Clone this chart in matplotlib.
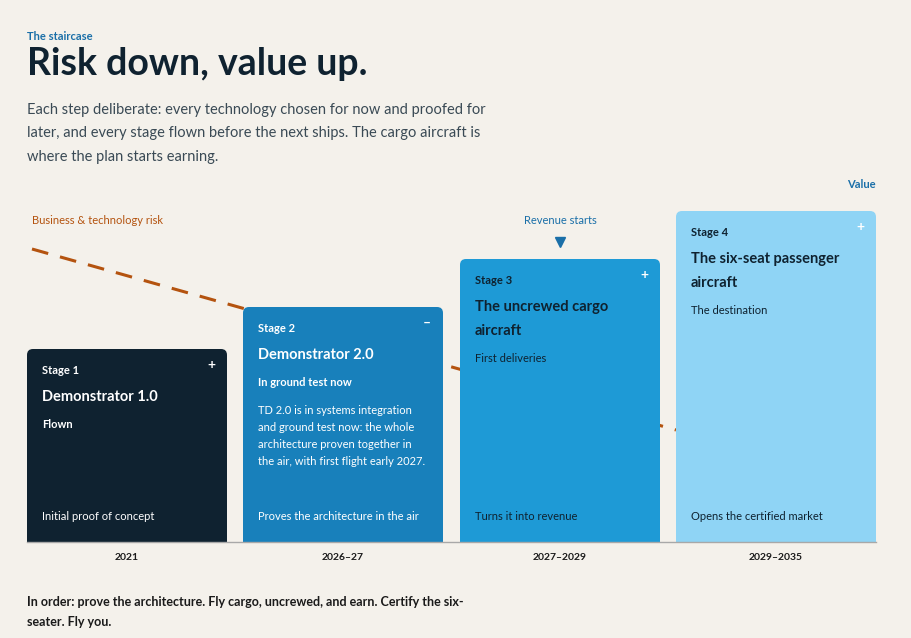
import matplotlib.pyplot as plt
from matplotlib.patches import FancyBboxPatch, Rectangle

plt.rcParams['font.family'] = ['Lato', 'DejaVu Sans']

# data
stages = ['Stage 1', 'Stage 2', 'Stage 3', 'Stage 4']
names = ['Demonstrator 1.0', 'Demonstrator 2.0', 'The uncrewed cargo\naircraft',
         'The six-seat passenger\naircraft']
status = ['Flown', 'In ground test now', 'First deliveries', 'The destination']
roles = ['Initial proof of concept', 'Proves the architecture in the air',
         'Turns it into revenue', 'Opens the certified market']
years = ['2021', '2026\u201327', '2027\u20132029', '2029\u20132035']
heights = [193, 235, 283, 331]  # relative value, px scale
icons = ['+', '\u2013', '+', '+']
colors = ['#0f2230', '#1880bb', '#1e9ad6', '#8fd4f5']
textcol = ['white', 'white', '#0f2230', '#0f2230']
risk_x = [32, 676]
risk_y = [249, 430]

BG = '#f4f1eb'
fig = plt.figure(figsize=(9.11, 6.38), dpi=100, facecolor=BG)
ax = fig.add_axes([0, 0, 1, 1])
ax.set_xlim(0, 911)
ax.set_ylim(638, 0)
ax.axis('off')

base = 542
x0s = [27, 243, 460, 676]
w = 200

ax.plot(risk_x, risk_y, color='#b4530f', lw=2.2, ls=(0, (5.5, 4)), zorder=1)

for i in range(4):
    x = x0s[i]
    top = base - heights[i]
    ax.add_patch(FancyBboxPatch((x, top), w, heights[i], boxstyle='round,pad=0,rounding_size=6',
                                fc=colors[i], ec='none', zorder=2))
    ax.add_patch(Rectangle((x, base - 20), w, 20, fc=colors[i], ec='none', zorder=2))
    tc = textcol[i]
    ax.text(x + 15, top + 21, stages[i], color=tc, fontsize=8, fontweight='bold', va='center')
    ax.text(x + w - 16, top + 16, icons[i], color='white', fontsize=10, fontweight='bold',
            ha='center', va='center')
    nlines = names[i].count('\n') + 1
    ax.text(x + 15, top + 48, names[i].split('\n')[0], color=tc, fontsize=10.5,
            fontweight='bold', va='center')
    if nlines > 1:
        ax.text(x + 15, top + 72, names[i].split('\n')[1], color=tc, fontsize=10.5,
                fontweight='bold', va='center')
    sy = top + 51 + 24 * nlines
    ax.text(x + 15, sy, status[i], color=tc, fontsize=8, fontweight='bold' if i < 2 else 'normal',
            va='center')
    ax.text(x + 15, 517, roles[i], color=tc, fontsize=8, va='center')
    ax.text(x + w / 2, 558, years[i], color='#1a1a1a', fontsize=7.5, fontweight='bold',
            ha='center', va='center')

ax.text(258, 405, 'TD 2.0 is in systems integration\nand ground test now: the whole\n'
        'architecture proven together in\nthe air, with first flight early 2027.',
        color='white', fontsize=8, va='top', linespacing=1.65, zorder=3)
for t in ax.texts:
    t.set_zorder(3)

ax.plot([27, 876], [base, base], color='#a8a8a8', lw=1, zorder=3)

ax.plot(560, 242, marker='v', color='#1a6fa8', ms=7, zorder=3)
ax.text(560, 221, 'Revenue starts', color='#1a6fa8', fontsize=8, ha='center', va='center')
ax.text(876, 184, 'Value', color='#1a6fa8', fontsize=8, ha='right', va='center', fontweight='bold')
ax.text(32, 221, 'Business & technology risk', color='#b4530f', fontsize=8, va='center')

ax.text(27, 36, 'The staircase', color='#1a6fa8', fontsize=8, fontweight='bold', va='center')
ax.text(27, 64, 'Risk down, value up.', color='#0f2230', fontsize=27, fontweight='bold',
        va='center')
ax.text(27, 103, 'Each step deliberate: every technology chosen for now and proofed for\n'
        'later, and every stage flown before the next ships. The cargo aircraft is\n'
        'where the plan starts earning.', color='#3a4a55', fontsize=10.5, va='top',
        linespacing=1.85)
ax.text(27, 596, 'In order: prove the architecture. Fly cargo, uncrewed, and earn. Certify the six-\n'
        'seater. Fly you.', color='#1a1a1a', fontsize=9, fontweight='bold', va='top',
        linespacing=1.75)

fig.savefig('out.png', dpi=100, facecolor=BG)
